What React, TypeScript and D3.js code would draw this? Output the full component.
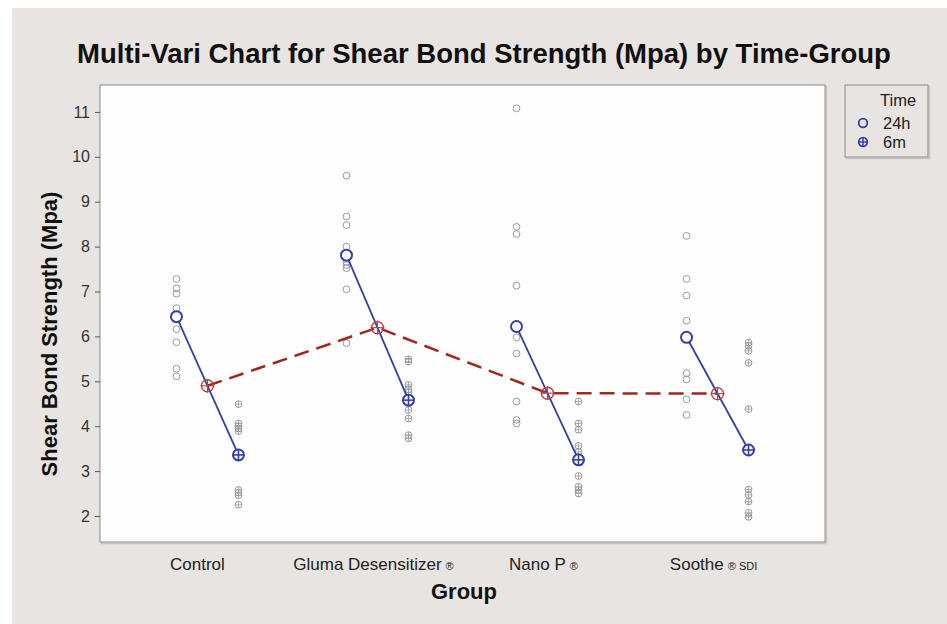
import React, { useEffect, useRef } from 'react';
import * as d3 from 'd3';

// groups and time levels
const groups = ['Control', 'Gluma Desensitizer', 'Nano P', 'Soothe'];
const groupSuffix = ['', '®', '®', '® SDI'];
const times = ['24h', '6m'];

const obs24h = [
  [7.28, 7.07, 6.95, 6.63, 6.16, 5.87, 5.28, 5.11],
  [9.58, 8.67, 8.48, 8.0, 7.78, 7.66, 7.59, 7.52, 7.05, 5.85],
  [11.08, 8.44, 8.28, 7.13, 5.98, 5.62, 4.55, 4.14, 4.06],
  [8.24, 7.28, 6.91, 6.35, 5.18, 5.04, 4.6, 4.25],
];
const obs6m = [
  [4.49, 4.06, 4.0, 3.95, 3.89, 2.58, 2.52, 2.46, 2.25],
  [5.49, 5.44, 4.92, 4.82, 4.75, 4.36, 4.17, 3.8, 3.73],
  [4.55, 4.06, 3.92, 3.56, 3.43, 2.89, 2.65, 2.58, 2.5],
  [5.86, 5.79, 5.68, 5.41, 4.38, 2.59, 2.47, 2.32, 2.07, 1.98],
];
// cell means
const mean24h = [6.44, 7.81, 6.22, 5.98];
const mean6m = [3.36, 4.58, 3.25, 3.47];

const yTicks = [2, 3, 4, 5, 6, 7, 8, 9, 10, 11];

const W = 947;
const H = 624;
const BLUE = '#3341a6';
const RED = '#a3261e';
const GRAY = '#9a9a9a';
const FONT = 'Liberation Sans, Arial, sans-serif';

const App: React.FC = () => {
  const ref = useRef<SVGSVGElement | null>(null);

  useEffect(() => {
    const svg = d3.select(ref.current);
    svg.selectAll('*').remove();

    const plot = { left: 100, right: 825, top: 85, bottom: 542 };

    // background
    svg.append('rect').attr('width', W).attr('height', H).attr('fill', '#ffffff');
    svg.append('rect').attr('x', 12).attr('y', 8).attr('width', W - 12).attr('height', H - 8).attr('fill', '#e8e4e1');

    const x = d3.scalePoint().domain(groups).range([plot.left, plot.right]).padding(0.632);
    const xt = d3.scalePoint().domain(times).range([-31, 31]);
    const y = d3.scaleLinear().domain([1.42, 11.6]).range([plot.bottom, plot.top]);

    // plot frame
    svg.append('rect')
      .attr('x', plot.left + 1.5).attr('y', plot.top + 1.5)
      .attr('width', plot.right - plot.left).attr('height', plot.bottom - plot.top)
      .attr('fill', 'none').attr('stroke', '#c8c4c2').attr('stroke-width', 1.5);
    svg.append('rect')
      .attr('x', plot.left).attr('y', plot.top)
      .attr('width', plot.right - plot.left).attr('height', plot.bottom - plot.top)
      .attr('fill', '#fefefe').attr('stroke', '#8a8a8a').attr('stroke-width', 1);

    // y axis
    const yAxis = svg.append('g')
      .attr('transform', `translate(${plot.left},0)`)
      .call(d3.axisLeft(y).tickValues(yTicks).tickSize(5).tickPadding(5).tickFormat(d3.format('d')));
    yAxis.select('.domain').remove();
    yAxis.selectAll('line').attr('stroke', '#555');
    yAxis.selectAll('text')
      .attr('font-family', FONT)
      .attr('font-size', 16).attr('fill', '#333');

    // x tick labels
    const xl = svg.append('g');
    groups.forEach((g, i) => {
      const t = xl.append('text')
        .attr('x', x(g)! - (i === 0 ? 10 : 4)).attr('y', 570)
        .attr('text-anchor', 'middle')
        .attr('font-family', FONT)
        .attr('font-size', 17).attr('fill', '#222');
      t.append('tspan').text(g);
      if (groupSuffix[i]) {
        t.append('tspan').attr('font-size', 11).attr('dx', 4).text(groupSuffix[i]);
      }
    });

    // axis titles
    svg.append('text')
      .attr('x', 464).attr('y', 599).attr('text-anchor', 'middle')
      .attr('font-family', FONT)
      .attr('font-weight', 'bold').attr('font-size', 22).attr('fill', '#111')
      .text('Group');
    svg.append('text')
      .attr('transform', `translate(57,334) rotate(-90)`)
      .attr('text-anchor', 'middle')
      .attr('font-family', FONT)
      .attr('font-weight', 'bold').attr('font-size', 22).attr('fill', '#111')
      .text('Shear Bond Strength (Mpa)');
    svg.append('text')
      .attr('x', 484).attr('y', 63).attr('text-anchor', 'middle')
      .attr('font-family', FONT)
      .attr('font-weight', 'bold').attr('font-size', 27.5).attr('fill', '#111')
      .text('Multi-Vari Chart for Shear Bond Strength (Mpa) by Time-Group');

    const crossSymbol = (g: any, cx: number, cy: number, r: number, color: string, sw: number, ext = 0) => {
      g.append('circle').attr('cx', cx).attr('cy', cy).attr('r', r)
        .attr('fill', 'none').attr('stroke', color).attr('stroke-width', sw);
      g.append('line').attr('x1', cx - r - ext).attr('x2', cx + r + ext).attr('y1', cy).attr('y2', cy)
        .attr('stroke', color).attr('stroke-width', sw * 0.8);
      g.append('line').attr('x1', cx).attr('x2', cx).attr('y1', cy - r - ext).attr('y2', cy + r + ext)
        .attr('stroke', color).attr('stroke-width', sw * 0.8);
    };

    // individual observations
    const pts = svg.append('g');
    groups.forEach((g, i) => {
      obs24h[i].forEach((v) => {
        pts.append('circle')
          .attr('cx', x(g)! + xt('24h')!).attr('cy', y(v)).attr('r', 3.4)
          .attr('fill', 'none').attr('stroke', GRAY).attr('stroke-width', 1);
      });
      obs6m[i].forEach((v) => {
        crossSymbol(pts, x(g)! + xt('6m')!, y(v), 3.4, GRAY, 1);
      });
    });

    // overall group means (dashed red)
    const groupMean = groups.map((_, i) => d3.mean([mean24h[i], mean6m[i]])!);
    const redLine = d3.line<number>().x((_, i) => x(groups[i])!).y((d) => y(d));
    svg.append('path')
      .attr('d', redLine(groupMean))
      .attr('fill', 'none').attr('stroke', RED).attr('stroke-width', 2.5)
      .attr('stroke-dasharray', '15,8');

    // cell mean lines (blue)
    groups.forEach((g, i) => {
      svg.append('line')
        .attr('x1', x(g)! + xt('24h')!).attr('y1', y(mean24h[i]))
        .attr('x2', x(g)! + xt('6m')!).attr('y2', y(mean6m[i]))
        .attr('stroke', BLUE).attr('stroke-width', 1.8);
    });

    const sym = svg.append('g');
    groups.forEach((g, i) => {
      crossSymbol(sym, x(g)!, y(groupMean[i]), 6, '#b8433a', 1.4, 1);
      sym.append('circle')
        .attr('cx', x(g)! + xt('24h')!).attr('cy', y(mean24h[i])).attr('r', 5.5)
        .attr('fill', '#fefefe').attr('stroke', BLUE).attr('stroke-width', 2);
      const cx = x(g)! + xt('6m')!;
      sym.append('circle').attr('cx', cx).attr('cy', y(mean6m[i])).attr('r', 5.5).attr('fill', '#fefefe');
      crossSymbol(sym, cx, y(mean6m[i]), 5.5, BLUE, 2);
    });

    // legend
    const lg = svg.append('g');
    lg.append('rect').attr('x', 846.5).attr('y', 86.5).attr('width', 83).attr('height', 72)
      .attr('fill', 'none').attr('stroke', '#c8c4c2').attr('stroke-width', 1.5);
    lg.append('rect').attr('x', 845).attr('y', 85).attr('width', 83).attr('height', 72)
      .attr('fill', '#e8e4e1').attr('stroke', '#8a8a8a').attr('stroke-width', 1);
    const lfont = (t: any) => t.attr('font-family', FONT).attr('font-size', 16.5).attr('fill', '#222');
    lfont(lg.append('text').attr('x', 880).attr('y', 106).text('Time'));
    times.forEach((t, i) => {
      const cy = 123 + i * 19;
      if (t === '24h') {
        lg.append('circle').attr('cx', 863).attr('cy', cy).attr('r', 4.3)
          .attr('fill', 'none').attr('stroke', BLUE).attr('stroke-width', 1.8);
      } else {
        crossSymbol(lg, 863, cy, 4.3, BLUE, 1.8);
      }
      lfont(lg.append('text').attr('x', 883).attr('y', cy + 5.5).text(t));
    });
  }, []);

  return (
    <svg ref={ref} width={W} height={H} style={{ position: 'absolute', left: 0, top: 0, display: 'block' }} />
  );
};

export default App;
